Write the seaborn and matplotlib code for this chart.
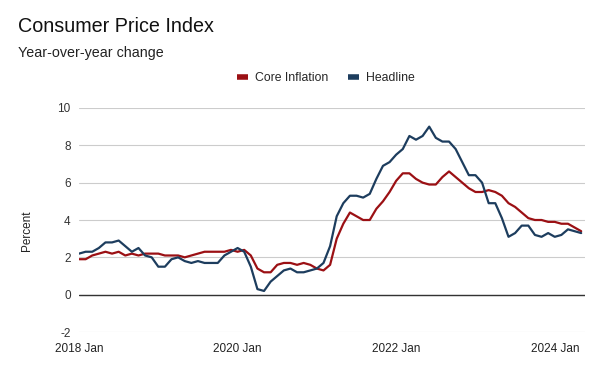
"""
Consumer Price Index - year-over-year change (core vs headline)
"""
import numpy as np
import pandas as pd
import matplotlib
matplotlib.use("Agg")
import matplotlib.pyplot as plt
import seaborn as sns

# Monthly data, 2018 Jan .. 2024 May
months = pd.date_range("2018-01-01", "2024-05-01", freq="MS")

core_inflation = [
    1.9, 1.9, 2.1, 2.2, 2.3, 2.2, 2.3, 2.1, 2.2, 2.1, 2.2, 2.2,   # 2018
    2.2, 2.1, 2.1, 2.1, 2.0, 2.1, 2.2, 2.3, 2.3, 2.3, 2.3, 2.4,   # 2019
    2.3, 2.4, 2.1, 1.4, 1.2, 1.2, 1.6, 1.7, 1.7, 1.6, 1.7, 1.6,   # 2020
    1.4, 1.3, 1.6, 3.0, 3.8, 4.4, 4.2, 4.0, 4.0, 4.6, 5.0, 5.5,   # 2021
    6.1, 6.5, 6.5, 6.2, 6.0, 5.9, 5.9, 6.3, 6.6, 6.3, 6.0, 5.7,   # 2022
    5.5, 5.5, 5.6, 5.5, 5.3, 4.9, 4.7, 4.4, 4.1, 4.0, 4.0, 3.9,   # 2023
    3.9, 3.8, 3.8, 3.6, 3.4,                                       # 2024
]

headline = [
    2.2, 2.3, 2.3, 2.5, 2.8, 2.8, 2.9, 2.6, 2.3, 2.5, 2.1, 2.0,   # 2018
    1.5, 1.5, 1.9, 2.0, 1.8, 1.7, 1.8, 1.7, 1.7, 1.7, 2.1, 2.3,   # 2019
    2.5, 2.3, 1.5, 0.3, 0.2, 0.7, 1.0, 1.3, 1.4, 1.2, 1.2, 1.3,   # 2020
    1.4, 1.7, 2.6, 4.2, 4.9, 5.3, 5.3, 5.2, 5.4, 6.2, 6.9, 7.1,   # 2021
    7.5, 7.8, 8.5, 8.3, 8.5, 9.0, 8.4, 8.2, 8.2, 7.8, 7.1, 6.4,   # 2022
    6.4, 6.0, 4.9, 4.9, 4.1, 3.1, 3.3, 3.7, 3.7, 3.2, 3.1, 3.3,   # 2023
    3.1, 3.2, 3.5, 3.4, 3.3,                                       # 2024
]

series_names = ["Core Inflation", "Headline"]
series_colors = ["#9b1014", "#1d3d5e"]
tick_months = ["2018-01", "2020-01", "2022-01", "2024-01"]
tick_labels = ["2018 Jan", "2020 Jan", "2022 Jan", "2024 Jan"]
y_ticks = [-2, 0, 2, 4, 6, 8, 10]

# Estilo
sns.set_style("white")
plt.rcParams["font.family"] = ["Liberation Sans", "DejaVu Sans"]

df = pd.DataFrame({
    "idx": np.arange(len(months)),
    "Core Inflation": core_inflation,
    "Headline": headline,
})
long_df = df.melt(id_vars="idx", var_name="series", value_name="value")

fig = plt.figure(figsize=(6, 3.71), dpi=100)
ax = fig.add_axes([0.1317, 0.105, 0.843, 0.604])

sns.lineplot(data=long_df, x="idx", y="value", hue="series",
             hue_order=series_names, palette=series_colors,
             linewidth=1.6, ax=ax, legend=True)

ax.set_xlim(0, len(months) - 1 + 0.55)
ax.set_ylim(-2, 10)
ax.set_yticks(y_ticks)
ax.set_yticklabels([str(v) for v in y_ticks], fontsize=8.5, color="#333333")

tick_pos = [list(months.strftime("%Y-%m")).index(m) for m in tick_months]
ax.set_xticks(tick_pos)
ax.set_xticklabels(tick_labels, fontsize=8.5, color="#222222")
ax.tick_params(axis="y", length=0, pad=6)
ax.tick_params(axis="x", length=0, pad=8)

ax.grid(True, axis="y", color="#cccccc", linewidth=0.8)
ax.axhline(0, color="#333333", linewidth=1.0, zorder=1)
for s in ax.spines.values():
    s.set_visible(False)

ax.set_xlabel("")
ax.set_ylabel("Percent", fontsize=8.5, color="#222222", labelpad=16)
ax.yaxis.set_label_coords(-0.09, 0.45)

# Legenda
handles, labels = ax.get_legend_handles_labels()
ax.get_legend().remove()
leg = fig.legend(handles, labels, loc="center", bbox_to_anchor=(0.543, 0.79),
                 ncol=2, frameon=False, fontsize=8.8, handlelength=0.9,
                 columnspacing=1.6, handletextpad=0.6)
for line in leg.get_lines():
    line.set_linewidth(4)
    line.set_solid_capstyle("butt")

fig.text(0.03, 0.913, "Consumer Price Index", fontsize=14.2, color="#111111")
fig.text(0.03, 0.846, "Year-over-year change", fontsize=10.3, color="#222222")

fig.savefig("out.png", dpi=100)
